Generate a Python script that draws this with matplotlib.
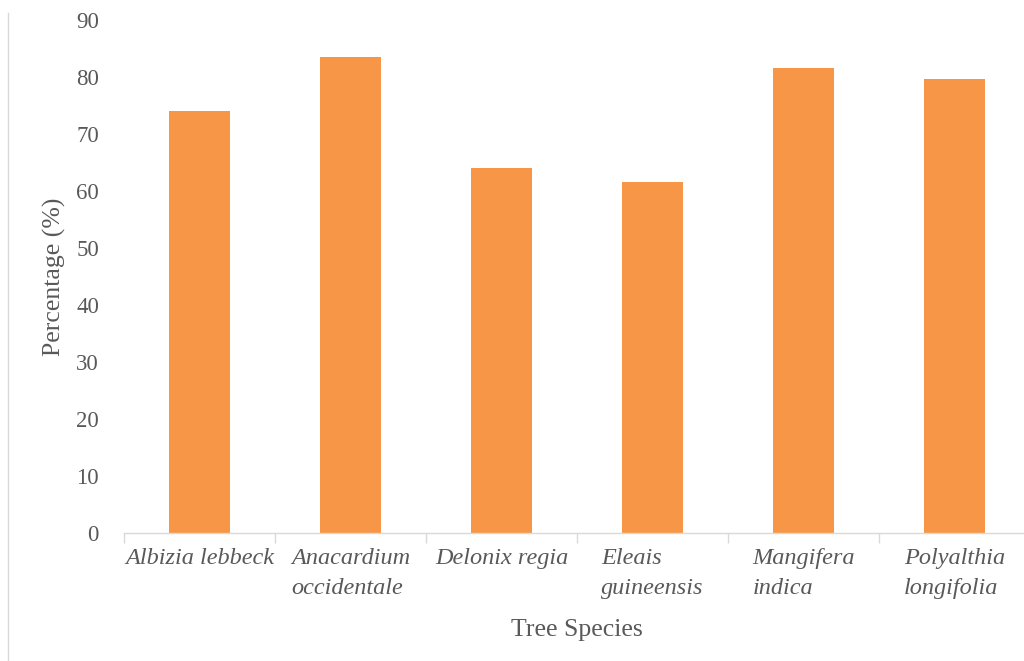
import matplotlib
matplotlib.use("Agg")
import matplotlib.pyplot as plt
import numpy as np

# Tree species and the percentage value for each
species = ["Albizia lebbeck", "Anacardium\noccidentale", "Delonix regia",
           "Eleais\nguineensis", "Mangifera\nindica", "Polyalthia\nlongifolia"]
percentages = [74.0, 83.6, 64.0, 61.6, 81.5, 79.7]
y_ticks = [0, 10, 20, 30, 40, 50, 60, 70, 80, 90]

bar_color = "#F79646"
text_color = "#595959"
axis_color = "#D9D9D9"

plt.rcParams["font.family"] = ["Liberation Serif", "DejaVu Serif"]

fig = plt.figure(figsize=(10.24, 6.61), dpi=100)
ax = fig.add_axes([0.121, 0.1936, 0.885, 0.7761])

x = np.arange(len(species))
ax.bar(x, percentages, width=0.4, color=bar_color, zorder=2)

ax.set_xlim(-0.5, len(species) - 0.5)
ax.set_ylim(0, 90)
ax.set_yticks(y_ticks)
ax.set_yticklabels([str(v) for v in y_ticks], fontsize=16.5, color=text_color)
ax.tick_params(axis="y", length=0, pad=18)

# category labels, with separator ticks between categories
ax.set_xticks(x)
ax.set_xticklabels(species, fontsize=17.5, style="italic", color=text_color,
                   multialignment="left", linespacing=1.55)
ax.tick_params(axis="x", which="major", length=0, pad=11)
ax.set_xticks(np.arange(len(species) + 1) - 0.5, minor=True)
ax.tick_params(axis="x", which="minor", length=7, width=1, color=axis_color)

for side in ("top", "right", "left"):
    ax.spines[side].set_visible(False)
ax.spines["bottom"].set_color(axis_color)
ax.spines["bottom"].set_linewidth(1)

ax.set_xlabel("Tree Species", fontsize=18.5, color=text_color, labelpad=14)
ax.set_ylabel("Percentage (%)", fontsize=18.5, color=text_color, labelpad=7)

# thin frame edge on the left of the chart area
fig.add_artist(plt.Line2D([0.008, 0.008], [0.0, 0.98], color=axis_color,
                          linewidth=1, transform=fig.transFigure))

fig.savefig("out.png", dpi=100)
